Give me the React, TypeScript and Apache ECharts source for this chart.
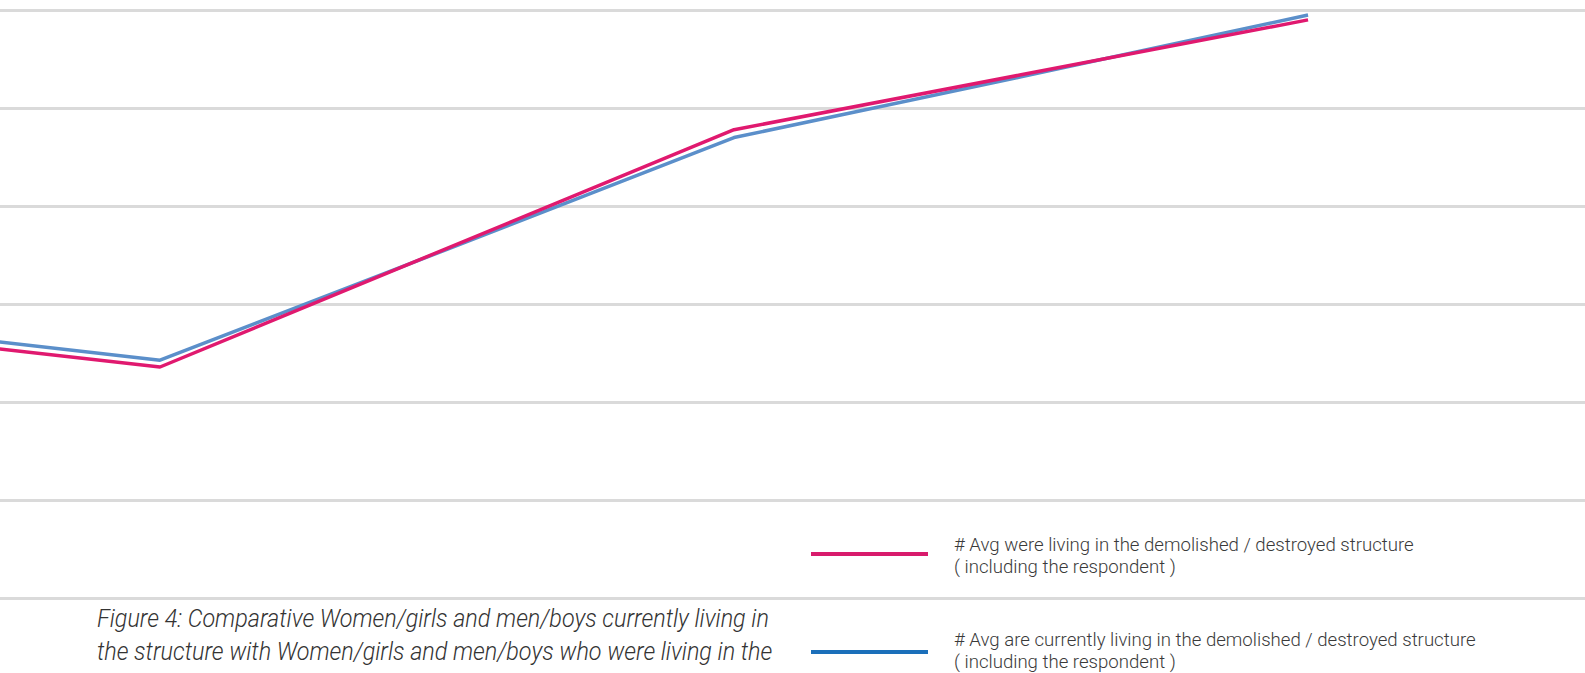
import React, { useEffect, useRef } from "react";
import * as echarts from "echarts";

// Position of each survey point along the horizontal axis
const pointIndex = [0, 1, 2, 3, 4, 5];
// Average number of people who were living in the demolished / destroyed structure
const wereLiving = [2.69, 2.36, 3.57, 4.78, 5.34, 5.9];
// Average number of people currently living in the demolished / destroyed structure
const currentlyLiving = [2.76, 2.43, 3.56, 4.7, 5.32, 5.95];

const legendLabels = [
  "# Avg were living in the demolished / destroyed structure\n( including the respondent )",
  "# Avg are currently living in the demolished / destroyed structure\n( including the respondent )",
];
const captionLines = [
  "Figure 4: Comparative Women/girls and men/boys currently living in",
  "the structure with Women/girls and men/boys who were living in the",
  "demolished / destroyed structure",
];

const PINK = "#e0196f";
const BLUE = "#5b8fca";
const PINK_KEY = "#d81b6c";
const BLUE_KEY = "#1b6fba";

export default function App() {
  const ref = useRef<HTMLDivElement>(null);

  useEffect(() => {
    if (!ref.current) return;
    const chart = echarts.init(ref.current, undefined, { renderer: "svg" });
    const toPairs = (vals: number[]) => vals.map((v, i) => [pointIndex[i], v]);

    const legendText = (y: number, text: string) => ({
      type: "text",
      x: 954,
      y,
      scaleX: 0.98,
      style: {
        text,
        font: "300 19px Roboto",
        fill: "#3a3a3a",
        lineHeight: 22,
        verticalAlign: "top",
      },
    });

    chart.setOption({
      animation: false,
      backgroundColor: "#ffffff",
      grid: { left: 0, right: 0, top: 10.1, bottom: 74.6 },
      xAxis: {
        type: "value",
        min: 0.4425,
        max: 5.965,
        show: false,
        splitLine: { show: false },
      },
      yAxis: {
        type: "value",
        min: 0,
        max: 6,
        interval: 1,
        axisLabel: { show: false },
        axisLine: { show: false },
        axisTick: { show: false },
        splitLine: { show: true, lineStyle: { color: "#dadada", width: 3 } },
      },
      series: [
        {
          name: "currently",
          type: "line",
          data: toPairs(currentlyLiving),
          symbol: "none",
          lineStyle: { color: BLUE, width: 3.5 },
          itemStyle: { color: BLUE },
        },
        {
          name: "were",
          type: "line",
          data: toPairs(wereLiving),
          symbol: "none",
          lineStyle: { color: PINK, width: 3.5 },
          itemStyle: { color: PINK },
        },
      ],
      graphic: [
        { type: "rect", shape: { x: 811, y: 552, width: 117, height: 4 }, style: { fill: PINK_KEY } },
        { type: "rect", shape: { x: 811, y: 650, width: 117, height: 4 }, style: { fill: BLUE_KEY } },
        legendText(534, legendLabels[0]),
        legendText(629, legendLabels[1]),
        {
          type: "text",
          x: 97,
          y: 602,
          scaleX: 0.935,
          style: {
            text: captionLines.join("\n"),
            font: "italic 300 25px Roboto",
            fill: "#333333",
            lineHeight: 33,
            verticalAlign: "top",
          },
        },
      ],
    });
    return () => chart.dispose();
  }, []);

  return (
    <div
      ref={ref}
      style={{ position: "fixed", left: 0, top: 0, width: 1585, height: 673, background: "#fff" }}
    />
  );
}
